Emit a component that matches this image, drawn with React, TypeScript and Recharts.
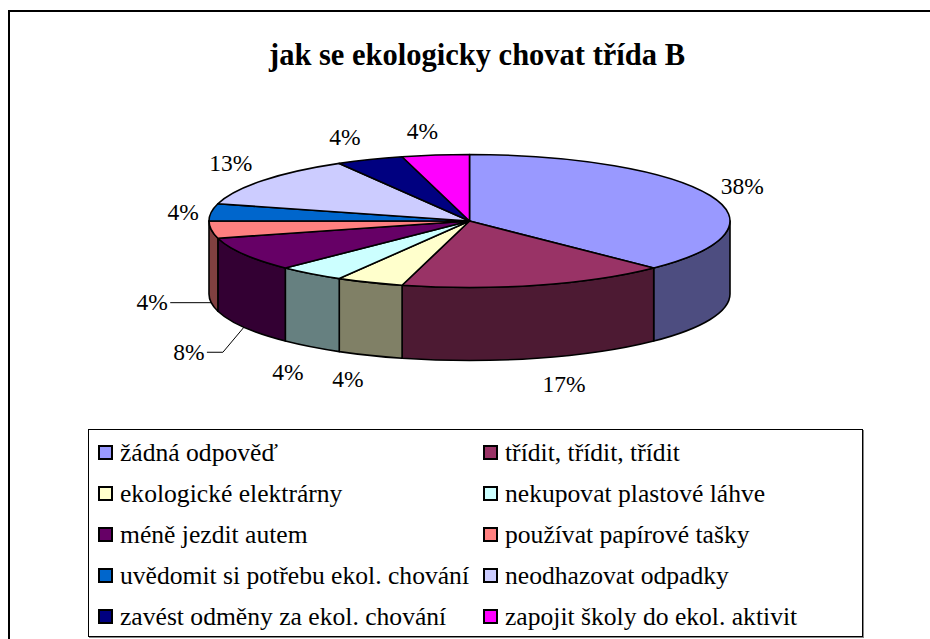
import React from 'react';
import { PieChart, Pie, Legend } from 'recharts';

const categories = [
  'žádná odpověď',
  'třídit, třídit, třídit',
  'ekologické elektrárny',
  'nekupovat plastové láhve',
  'méně jezdit autem',
  'používat papírové tašky',
  'uvědomit si potřebu ekol. chování',
  'neodhazovat odpadky',
  'zavést odměny za ekol. chování',
  'zapojit školy do ekol. aktivit',
];
const counts = [9, 4, 1, 1, 2, 1, 1, 3, 1, 1];
const topColors = ['#9999FF', '#993366', '#FFFFCC', '#CCFFFF', '#660066', '#FF8080', '#0066CC', '#CCCCFF', '#000080', '#FF00FF'];
const wallColors = ['#4D4D80', '#4D1A33', '#808066', '#668080', '#330033', '#804040', '#003366', '#666680', '#000040', '#800080'];

// nudge of each percent label from the rim point of its slice
const labelNudges = [
  [32, -10], [27, 99], [-22, 97], [-23, 98], [-55, 98],
  [-59, 72], [-28, 0], [-32, -18], [-25, -23], [-13, -24],
];

const tableData = categories.map((name, i) => ({ name, value: counts[i], fill: topColors[i] }));

const FONT = '"Liberation Serif", serif';
const RX = 260.5;
const RY = 66.5;
const DEPTH = 73;
const RAD = Math.PI / 180;

const rim = (cx: number, cy: number, deg: number): [number, number] => [
  cx + RX * Math.cos(deg * RAD),
  cy - RY * Math.sin(deg * RAD),
];

// recharts gives the angles, the sector is squashed to an ellipse and gets a side wall
const Slice3D = (props: any) => {
  const { cx, cy, startAngle, endAngle, fill, index } = props;
  const [sx, sy] = rim(cx, cy, startAngle);
  const [ex, ey] = rim(cx, cy, endAngle);
  const large = Math.abs(startAngle - endAngle) > 180 ? 1 : 0;
  const top = `M${cx},${cy} L${sx},${sy} A${RX},${RY} 0 ${large} 1 ${ex},${ey} Z`;

  const hi = Math.min(startAngle, 0);
  const lo = Math.max(endAngle, -180);
  let wall = null;
  if (hi > lo) {
    const [hx, hy] = rim(cx, cy, hi);
    const [lx, ly] = rim(cx, cy, lo);
    const d = `M${hx},${hy} A${RX},${RY} 0 0 1 ${lx},${ly} L${lx},${ly + DEPTH} A${RX},${RY} 0 0 0 ${hx},${hy + DEPTH} Z`;
    wall = <path d={d} fill={wallColors[index]} stroke="#000" strokeWidth={1.6} strokeLinejoin="round" />;
  }
  return (
    <g>
      {wall}
      <path d={top} fill={fill} stroke="#000" strokeWidth={1.6} strokeLinejoin="round" />
    </g>
  );
};

const renderLabel = (props: any) => {
  const { cx, cy, midAngle, percent, index } = props;
  const [px, py] = rim(cx, cy, midAngle);
  const [dx, dy] = labelNudges[index];
  const x = px + dx;
  const y = py + dy;
  let leader = null;
  if (index === 4) {
    leader = <polyline points={`${x + 18},${y} ${x + 34},${y} ${px},${py + DEPTH}`} fill="none" stroke="#000" strokeWidth={1} />;
  }
  if (index === 5) {
    leader = <line x1={x + 18} y1={y + 1} x2={px} y2={y + 1} stroke="#000" strokeWidth={1} />;
  }
  return (
    <g>
      {leader}
      <text x={x} y={y} textAnchor="middle" dominantBaseline="central" fontFamily={FONT} fontSize={23.5} fill="#000">
        {`${Math.round(percent * 100)}%`}
      </text>
    </g>
  );
};

const LegendBox = ({ payload }: any) => (
  <div
    style={{
      boxSizing: 'border-box',
      width: 775,
      height: 208,
      border: '1px solid #000',
      boxShadow: '1px 1px 0 #888',
      background: '#fff',
      padding: '2px 0 0 9px',
      display: 'grid',
      gridTemplateColumns: '385px 1fr',
      gridAutoRows: '41px',
      alignItems: 'center',
      fontFamily: FONT,
      fontSize: 25.6,
      color: '#000',
    }}
  >
    {(payload || []).map((item: any) => (
      <div key={item.value} style={{ display: 'flex', alignItems: 'center', whiteSpace: 'nowrap' }}>
        <span
          style={{
            boxSizing: 'border-box',
            width: 15,
            height: 15,
            border: '2px solid #000',
            background: item.color,
            marginRight: 7,
          }}
        />
        {item.value}
      </div>
    ))}
  </div>
);

export default function App() {
  return (
    <div style={{ position: 'absolute', left: 0, top: 0, width: 930, height: 639, overflow: 'hidden', background: '#fff' }}>
      <div style={{ position: 'absolute', left: 8, top: 10, width: 930, height: 640, borderLeft: '2px solid #000', borderTop: '2px solid #000' }} />
      <div style={{ position: 'absolute', left: 0, top: 0 }}>
        <PieChart width={930} height={639} margin={{ top: 0, right: 0, bottom: 0, left: 0 }}>
          <text x={477} y={65} textAnchor="middle" fontFamily={FONT} fontWeight="bold" fontSize={30.5} fill="#000">
            jak se ekologicky chovat třída B
          </text>
          <Pie
            data={tableData}
            dataKey="value"
            nameKey="name"
            cx={469.5}
            cy={221}
            outerRadius={RX}
            startAngle={90}
            endAngle={-270}
            shape={Slice3D}
            label={renderLabel}
            labelLine={false}
            isAnimationActive={false}
          />
          <Legend
            content={<LegendBox />}
            itemSorter={null}
            wrapperStyle={{ position: 'absolute', left: 88, top: 429, bottom: 'auto', width: 775, height: 208 }}
          />
        </PieChart>
      </div>
    </div>
  );
}
